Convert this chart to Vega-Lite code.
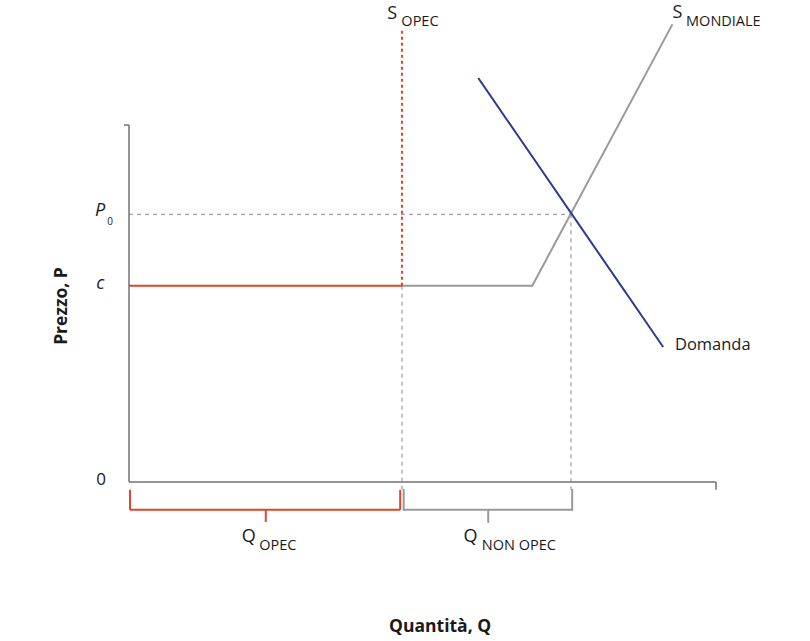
{
  "$schema": "https://vega.github.io/schema/vega-lite/v6.json",
  "autosize": "none",
  "width": 587,
  "height": 621,
  "padding": {"left": 129, "top": 18, "right": 94, "bottom": 2},
  "background": "white",
  "config": {"view": {"stroke": null}, "text": {"font": "Open Sans"}},
  "datasets": {
    "segs": [
      {"kind": "axis", "x": 0, "y": 100, "x2": 0, "y2": 0},
      {"kind": "axis", "x": -0.85, "y": 100, "x2": 0, "y2": 100},
      {"kind": "axis", "x": 0, "y": 0, "x2": 100, "y2": 0},
      {"kind": "axis", "x": 100, "y": 0, "x2": 100, "y2": -2.2},
      {"kind": "red", "x": 0, "y": 55, "x2": 46.5, "y2": 55},
      {"kind": "redbracket", "x": 0.17, "y": -2.2, "x2": 0.17, "y2": -7.8},
      {"kind": "redbracket", "x": 0.17, "y": -7.8, "x2": 46.2, "y2": -7.8},
      {"kind": "redbracket", "x": 46.2, "y": -7.8, "x2": 46.2, "y2": -2.2},
      {"kind": "redbracket", "x": 23.3, "y": -7.8, "x2": 23.3, "y2": -11.2},
      {"kind": "reddot", "x": 46.5, "y": 55, "x2": 46.5, "y2": 126.6},
      {"kind": "dash", "x": 0, "y": 75, "x2": 75.3, "y2": 75},
      {"kind": "dash", "x": 46.5, "y": 55, "x2": 46.5, "y2": -2.2},
      {"kind": "dash", "x": 75.3, "y": 75, "x2": 75.3, "y2": -2.2},
      {"kind": "graybracket", "x": 46.8, "y": -2.2, "x2": 46.8, "y2": -7.8},
      {"kind": "graybracket", "x": 46.8, "y": -7.8, "x2": 75.5, "y2": -7.8},
      {"kind": "graybracket", "x": 75.5, "y": -7.8, "x2": 75.5, "y2": -2.2},
      {"kind": "graybracket", "x": 61.2, "y": -7.8, "x2": 61.2, "y2": -11.2},
      {"kind": "supply", "x": 46.5, "y": 55, "x2": 68.7, "y2": 55},
      {"kind": "supply", "x": 68.7, "y": 55, "x2": 92.5, "y2": 128},
      {"kind": "demand", "x": 59.5, "y": 113.2, "x2": 91, "y2": 37.8}
    ],
    "labels": [
      {"role": "main", "text": "S", "x": 44.0, "y": 131.0},
      {"role": "sub", "text": "OPEC", "x": 46.4, "y": 128.9},
      {"role": "main", "text": "S", "x": 92.6, "y": 131.5},
      {"role": "sub", "text": "MONDIALE", "x": 94.9, "y": 128.9},
      {"role": "main", "text": "Q", "x": 19.2, "y": -15.3},
      {"role": "sub", "text": "OPEC", "x": 22.2, "y": -18.0},
      {"role": "main", "text": "Q", "x": 57.0, "y": -15.3},
      {"role": "sub", "text": "NON OPEC", "x": 60.1, "y": -18.0},
      {"role": "dom", "text": "Domanda", "x": 93.0, "y": 38.4},
      {"role": "tick", "text": "0", "x": -5.6, "y": 0.6},
      {"role": "italic", "text": "c", "x": -5.6, "y": 55.5},
      {"role": "italic", "text": "P", "x": -5.8, "y": 75.9},
      {"role": "tiny", "text": "0", "x": -3.7, "y": 72.9}
    ],
    "titles": [
      {"text": "Quantità, Q", "x": 53.0, "y": -40.6, "angle": 0},
      {"text": "Prezzo, P", "x": -11.4, "y": 49.3, "angle": 270}
    ]
  },
  "encoding": {
    "x": {"field": "x", "type": "quantitative", "scale": {"domain": [0, 100], "zero": false, "nice": false}, "axis": null},
    "y": {"field": "y", "type": "quantitative", "scale": {"domain": [-44, 130], "zero": false, "nice": false}, "axis": null}
  },
  "layer": [
    {"data": {"name": "segs"}, "transform": [{"filter": "datum.kind == 'dash'"}],
     "mark": {"type": "rule", "color": "#8a8a8a", "strokeWidth": 1, "strokeDash": [4, 4]},
     "encoding": {"x2": {"field": "x2"}, "y2": {"field": "y2"}}},
    {"data": {"name": "segs"}, "transform": [{"filter": "datum.kind == 'axis'"}],
     "mark": {"type": "rule", "color": "#727272", "strokeWidth": 1.5},
     "encoding": {"x2": {"field": "x2"}, "y2": {"field": "y2"}}},
    {"data": {"name": "segs"}, "transform": [{"filter": "datum.kind == 'supply' || datum.kind == 'graybracket'"}],
     "mark": {"type": "rule", "color": "#9a9a9a", "strokeWidth": 2, "strokeCap": "round"},
     "encoding": {"x2": {"field": "x2"}, "y2": {"field": "y2"}}},
    {"data": {"name": "segs"}, "transform": [{"filter": "datum.kind == 'red' || datum.kind == 'redbracket'"}],
     "mark": {"type": "rule", "color": "#e0442a", "strokeWidth": 2},
     "encoding": {"x2": {"field": "x2"}, "y2": {"field": "y2"}}},
    {"data": {"name": "segs"}, "transform": [{"filter": "datum.kind == 'reddot'"}],
     "mark": {"type": "rule", "color": "#e0442a", "strokeWidth": 2, "strokeDash": [3, 3]},
     "encoding": {"x2": {"field": "x2"}, "y2": {"field": "y2"}}},
    {"data": {"name": "segs"}, "transform": [{"filter": "datum.kind == 'demand'"}],
     "mark": {"type": "rule", "color": "#2b3a8f", "strokeWidth": 2},
     "encoding": {"x2": {"field": "x2"}, "y2": {"field": "y2"}}},
    {"data": {"name": "labels"}, "transform": [{"filter": "datum.role == 'main'"}],
     "mark": {"type": "text", "align": "left", "baseline": "middle", "fontSize": 18, "color": "#1a1a1a"},
     "encoding": {"text": {"field": "text"}}},
    {"data": {"name": "labels"}, "transform": [{"filter": "datum.role == 'dom'"}],
     "mark": {"type": "text", "align": "left", "baseline": "middle", "fontSize": 16.5, "color": "#1a1a1a"},
     "encoding": {"text": {"field": "text"}}},
    {"data": {"name": "labels"}, "transform": [{"filter": "datum.role == 'tick'"}],
     "mark": {"type": "text", "align": "left", "baseline": "middle", "fontSize": 17, "color": "#1a1a1a"},
     "encoding": {"text": {"field": "text"}}},
    {"data": {"name": "labels"}, "transform": [{"filter": "datum.role == 'sub'"}],
     "mark": {"type": "text", "align": "left", "baseline": "middle", "fontSize": 14.5, "color": "#1a1a1a"},
     "encoding": {"text": {"field": "text"}}},
    {"data": {"name": "labels"}, "transform": [{"filter": "datum.role == 'italic'"}],
     "mark": {"type": "text", "align": "left", "baseline": "middle", "fontSize": 18, "fontStyle": "italic", "color": "#1a1a1a"},
     "encoding": {"text": {"field": "text"}}},
    {"data": {"name": "labels"}, "transform": [{"filter": "datum.role == 'tiny'"}],
     "mark": {"type": "text", "align": "left", "baseline": "middle", "fontSize": 10, "color": "#1a1a1a"},
     "encoding": {"text": {"field": "text"}}},
    {"data": {"name": "titles"},
     "mark": {"type": "text", "align": "center", "baseline": "middle", "fontSize": 17.5, "fontWeight": "bold", "color": "#1a1a1a"},
     "encoding": {"text": {"field": "text"}, "angle": {"field": "angle", "type": "quantitative", "scale": null}}}
  ]
}
